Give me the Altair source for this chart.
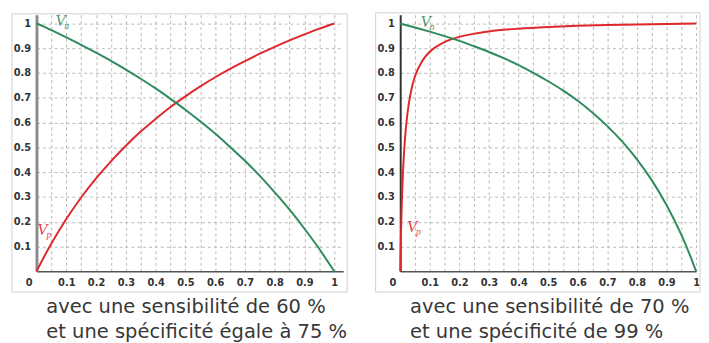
import altair as alt
import pandas as pd

# ---- data ----
left_x = [0, 0.025, 0.05, 0.1, 0.15, 0.2, 0.25, 0.3, 0.35, 0.4, 0.45, 0.5,
          0.55, 0.6, 0.65, 0.7, 0.75, 0.8, 0.85, 0.9, 0.95, 1.0]
left_vp = [0, 0.058, 0.112, 0.211, 0.298, 0.375, 0.444, 0.507, 0.564, 0.615, 0.663,
           0.706, 0.746, 0.783, 0.817, 0.848, 0.878, 0.906, 0.932, 0.956, 0.979, 1.0]
left_vn = [1.0, 0.987, 0.973, 0.944, 0.914, 0.882, 0.849, 0.814, 0.777, 0.738, 0.696,
           0.652, 0.605, 0.556, 0.502, 0.446, 0.385, 0.319, 0.249, 0.172, 0.090, 0.0]

right_vp_x = [0, 0.001, 0.002, 0.005, 0.01, 0.015, 0.02, 0.03, 0.04, 0.05, 0.075, 0.1,
              0.15, 0.2, 0.25, 0.3, 0.4, 0.5, 0.6, 0.7, 0.8, 0.9, 1.0]
right_vp = [0, 0.066, 0.123, 0.260, 0.414, 0.516, 0.588, 0.684, 0.745, 0.787, 0.850, 0.886,
            0.925, 0.946, 0.959, 0.968, 0.979, 0.986, 0.991, 0.994, 0.996, 0.998, 1.0]
right_vn_x = [0, 0.05, 0.1, 0.15, 0.2, 0.25, 0.3, 0.35, 0.4, 0.45, 0.5, 0.55, 0.6,
              0.65, 0.7, 0.75, 0.8, 0.85, 0.9, 0.95, 0.975, 1.0]
right_vn = [1.0, 0.984, 0.967, 0.949, 0.930, 0.908, 0.885, 0.860, 0.832, 0.801, 0.767,
            0.730, 0.688, 0.640, 0.586, 0.524, 0.452, 0.368, 0.268, 0.148, 0.078, 0.0]

series_names = ["Vp", "Vn"]
label_main = ["V", "V"]
label_sub = ["p", "n"]
left_label_x = [0.02, 0.08]
left_label_y = [0.167, 1.008]
right_label_x = [0.04, 0.086]
right_label_y = [0.18, 1.004]

caption_left = ["avec une sensibilité de 60 %", "et une spécificité égale à 75 %"]
caption_right = ["avec une sensibilité de 70 %", "et une spécificité de 99 %"]

x_tick_values = [round(i * 0.05, 2) for i in range(21)]
y_tick_values = [round(i * 0.1, 1) for i in range(1, 11)]

RED = "#e0282c"
GREEN = "#2e8b5c"
color_scale = alt.Scale(domain=series_names, range=[RED, GREEN])


def panel(df, labels, xmax, width, height, ydom_color, ydom_width, caption,
          frame_right, frame_top, extra_top):
    xs = alt.Scale(domain=[0, xmax], nice=False, zero=False)
    ys = alt.Scale(domain=[0, 1.035], nice=False, zero=False)
    xaxis = alt.Axis(
        values=x_tick_values, tickCount=50, title=None, grid=True, gridColor="#b8b8b8",
        gridDash=[3, 3], gridWidth=1, ticks=False, domainColor="#555555",
        domainWidth=1.5, labelOverlap=False,
        labelExpr="round(datum.value*20) % 2 == 0 ? format(datum.value, '.1~f') : ''",
        labelFont="DejaVu Sans", labelFontSize=10, labelFontWeight="bold",
        labelColor="#333333", labelPadding=6, labelFlush=False,
        labelOffset={"condition": {"test": "datum.value == 0", "value": -8}, "value": 0},
    )
    yaxis = alt.Axis(
        values=y_tick_values, tickCount=50, title=None, grid=True, gridColor="#b8b8b8",
        gridDash=[3, 3], gridWidth=1, ticks=False, domainColor=ydom_color,
        domainWidth=ydom_width, format=".1~f", labelOverlap=False,
        labelFont="DejaVu Sans", labelFontSize=10, labelFontWeight="bold",
        labelColor="#333333", labelPadding=6, labelFlush=False,
    )
    one = pd.DataFrame({"a": [0]})
    frame = alt.Chart(one).mark_rect(fillOpacity=0, stroke="#cfcfcf", strokeWidth=1).encode(
        x=alt.value(-25), x2=alt.value(frame_right),
        y=alt.value(frame_top), y2=alt.value(height + 21),
    )
    pad_top = alt.Chart(one).mark_rule(opacity=0).encode(
        x=alt.value(0), x2=alt.value(1), y=alt.value(extra_top)
    )
    lines = alt.Chart(df).mark_line(strokeWidth=2, interpolate="monotone", clip=False).encode(
        x=alt.X("x:Q", scale=xs, axis=xaxis),
        y=alt.Y("y:Q", scale=ys, axis=yaxis),
        color=alt.Color("series:N", scale=color_scale, legend=None),
        detail="series:N",
    )
    main = alt.Chart(labels).mark_text(
        font="Liberation Serif", fontStyle="italic", fontSize=17,
        align="center", baseline="middle", opacity=0.85,
    ).encode(
        x=alt.X("x:Q", scale=xs, axis=xaxis), y=alt.Y("y:Q", scale=ys, axis=yaxis), text="t:N",
        color=alt.Color("series:N", scale=color_scale, legend=None),
    )
    sub = alt.Chart(labels).mark_text(
        font="Liberation Serif", fontStyle="italic", fontSize=10,
        align="left", baseline="middle", dx=4, dy=5, opacity=0.85,
    ).encode(
        x=alt.X("x:Q", scale=xs, axis=xaxis), y=alt.Y("y:Q", scale=ys, axis=yaxis), text="s:N",
        color=alt.Color("series:N", scale=color_scale, legend=None),
    )
    return alt.layer(pad_top, frame, lines, main, sub).properties(
        width=width, height=height,
        title=alt.TitleParams(
            text=caption, orient="bottom", anchor="start", frame="group",
            dx=10, offset=5, fontSize=19.8, font="DejaVu Sans", fontWeight="normal",
            color="#383838", lineHeight=25,
        ),
    )


left_df = pd.concat([
    pd.DataFrame({"x": left_x, "y": left_vp, "series": "Vp"}),
    pd.DataFrame({"x": left_x, "y": left_vn, "series": "Vn"}),
])
right_df = pd.concat([
    pd.DataFrame({"x": right_vp_x, "y": right_vp, "series": "Vp"}),
    pd.DataFrame({"x": right_vn_x, "y": right_vn, "series": "Vn"}),
])
left_labels = pd.DataFrame({"x": left_label_x, "y": left_label_y, "t": label_main,
                            "s": label_sub, "series": series_names})
right_labels = pd.DataFrame({"x": right_label_x, "y": right_label_y, "t": label_main,
                             "s": label_sub, "series": series_names})

left = panel(left_df, left_labels, 1.03, 312, 261, "#8c8c8c", 3, caption_left,
             316, -1, -4)
right = panel(right_df, right_labels, 1.0, 301, 261, "#333333", 2, caption_right,
              305, -2, -2)

chart = alt.hconcat(left, right, spacing=27).properties(
    padding={"left": 3, "top": 0, "right": 0, "bottom": 0},
    background="white",
).configure_view(stroke=None)

chart.save("out.html", embed_options={"renderer": "svg", "actions": False})
